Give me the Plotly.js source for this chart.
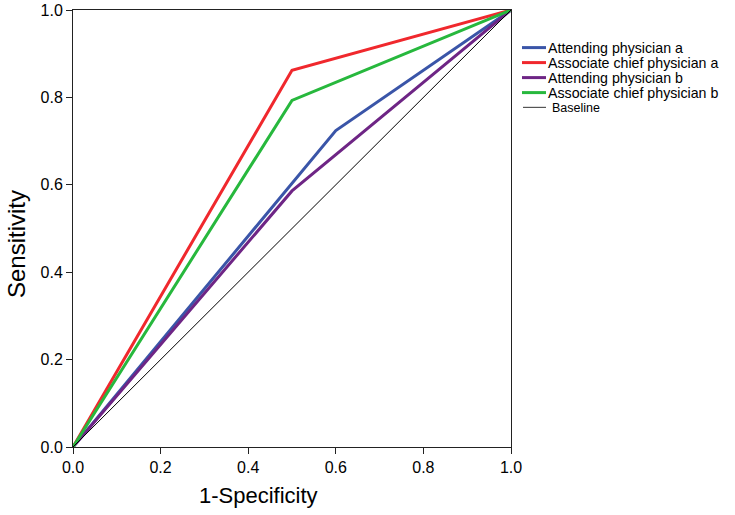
<!DOCTYPE html>
<html><head><meta charset="utf-8">
<script src="https://cdn.plot.ly/plotly-3.0.1.min.js"></script>
<style>body{margin:0;background:#fff}#c{width:735px;height:515px}</style>
</head><body><div id="c"></div>
<script>
// Data
const seriesNames = ["Attending physician a","Associate chief physician a","Attending physician b","Associate chief physician b","Baseline"];
const seriesColors = ["#3a55a8","#f0282d","#6e2585","#27b83d","#000000"];
const xAttA = [0, 0.6, 1];
const yAttA = [0, 0.724, 1];
const xAssocA = [0, 0.5, 1];
const yAssocA = [0, 0.862, 1];
const xAttB = [0, 0.5, 1];
const yAttB = [0, 0.586, 1];
const xAssocB = [0, 0.5, 1];
const yAssocB = [0, 0.793, 1];
const xBase = [0, 1];
const yBase = [0, 1];
const tickVals = [0, 0.2, 0.4, 0.6, 0.8, 1.0];
const tickLabels = ["0.0","0.2","0.4","0.6","0.8","1.0"];
const xTitle = "1-Specificity";
const yTitle = "Sensitivity";

const xs = [xAttA, xAssocA, xAttB, xAssocB, xBase];
const ys = [yAttA, yAssocA, yAttB, yAssocB, yBase];
const widths = [3, 3, 3, 3, 1];

const traces = xs.map((x, i) => ({
  x: x, y: ys[i], mode: "lines", type: "scatter", name: seriesNames[i],
  line: {color: seriesColors[i], width: widths[i]}, showlegend: false, hoverinfo: "skip"
}));

const FONT = "Liberation Sans, Arial, sans-serif";
// custom legend (lines + labels in pixel-based paper coords)
const L = 73, R = 511, T = 10, B = 447;
const px = v => (v - L) / (R - L);
const py = v => (B - v) / (B - T);
const legLineY = [47.6, 62.6, 77.6, 92.6, 107.4];
const legTextY = [48.3, 63.3, 78.3, 93.3, 108];
const shapes = [];
const annotations = [];
seriesNames.forEach((n, i) => {
  const isBase = i === 4;
  shapes.push({type: "line", xref: "paper", yref: "paper",
    x0: px(isBase ? 523 : 522), x1: px(546), y0: py(legLineY[i]), y1: py(legLineY[i]),
    line: {color: isBase ? "#555555" : seriesColors[i], width: isBase ? 1.2 : 3}});
  annotations.push({xref: "paper", yref: "paper", x: px(isBase ? 551 : 547), y: py(legTextY[i]),
    xanchor: "left", yanchor: "middle", showarrow: false, text: n, borderpad: 0,
    font: {family: FONT, size: isBase ? 12.5 : 14.2, color: "#000"}});
});
// axis titles
annotations.push({xref: "paper", yref: "paper", x: px(258), y: py(495), xanchor: "center", yanchor: "middle",
  showarrow: false, text: xTitle, font: {family: FONT, size: 22, color: "#000"}});
annotations.push({xref: "paper", yref: "paper", x: px(16), y: py(244), xanchor: "center", yanchor: "middle",
  showarrow: false, textangle: -90, text: yTitle, font: {family: FONT, size: 24, color: "#000"}});

const axisCommon = {
  range: [0, 1], tickvals: tickVals, ticktext: tickLabels, ticks: "outside", ticklen: 6,
  tickcolor: "#222", tickwidth: 1, showline: true, linecolor: "#222", linewidth: 1,
  mirror: true, showgrid: false, zeroline: false, fixedrange: true,
  tickfont: {family: FONT, size: 16, color: "#000"}
};

const layout = {
  width: 735, height: 515, paper_bgcolor: "#fff", plot_bgcolor: "#fff",
  margin: {l: L, r: 735 - R, t: T, b: 515 - B, pad: 0},
  showlegend: false,
  xaxis: Object.assign({}, axisCommon),
  yaxis: Object.assign({}, axisCommon),
  shapes: shapes, annotations: annotations
};

Plotly.newPlot("c", traces, layout, {displayModeBar: false, staticPlot: true});
</script></body></html>
